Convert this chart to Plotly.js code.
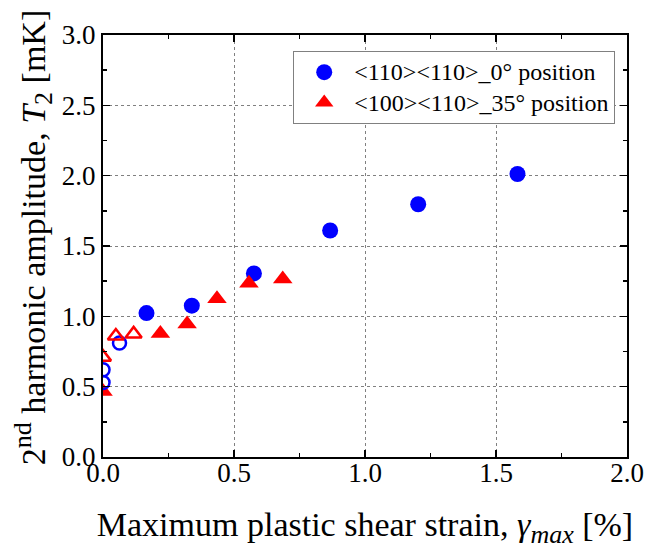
<!DOCTYPE html>
<html>
<head>
<meta charset="utf-8">
<script src="https://cdn.plot.ly/plotly-3.0.1.min.js"></script>
<style>html,body{margin:0;padding:0;background:#fff;}#chart{width:646px;height:551px;}</style>
</head>
<body>
<div id="chart"></div>
<script>
// <110><110>_0° position — filled points
const blueX = [0.166, 0.339, 0.576, 0.867, 1.203, 1.582];
const blueY = [1.023, 1.076, 1.305, 1.61, 1.797, 2.012];
// <110><110>_0° position — open points
const blueOpenX = [0.0, 0.0, 0.063];
const blueOpenY = [0.53, 0.62, 0.81];
// <100><110>_35° position — filled points
const redX = [0.0, 0.219, 0.321, 0.435, 0.557, 0.686];
const redY = [0.465, 0.878, 0.945, 1.125, 1.235, 1.265];
// <100><110>_35° position — open points
const redOpenX = [0.0, 0.049, 0.117];
const redOpenY = [0.71, 0.86, 0.875];

const names = ['&lt;110&gt;&lt;110&gt;_0° position', '&lt;100&gt;&lt;110&gt;_35° position'];
const xTicks = [0, 0.5, 1.0, 1.5, 2.0];
const yTicks = [0, 0.5, 1.0, 1.5, 2.0, 2.5, 3.0];

const font = 'Liberation Serif';
const big = s => '<span style="font-family:Liberation Serif;font-size:24px">' + s + '</span>';
const tk = v => '<span style="font-family:Liberation Serif;font-size:27px">' + v.toFixed(1) + '</span>';

const traces = [
  {x: blueX, y: blueY, type: 'scatter', mode: 'markers', name: big(names[0]),
   marker: {symbol: 'circle', size: 16, color: '#0000ff'}},
  {x: redX, y: redY, type: 'scatter', mode: 'markers', name: big(names[1]),
   marker: {symbol: 'triangle-up', size: 17, color: '#ff0000'}},
  {x: blueOpenX, y: blueOpenY, type: 'scatter', mode: 'markers', showlegend: false,
   marker: {symbol: 'circle-open', size: 13, color: '#0000ff', line: {width: 2.5, color: '#0000ff'}}},
  {x: redOpenX, y: redOpenY, type: 'scatter', mode: 'markers', showlegend: false,
   marker: {symbol: 'triangle-up-open', size: 14, color: '#ff0000', line: {width: 2.5, color: '#ff0000'}}}
];

function axisBase() {
  return {
    showline: true, linecolor: '#000', linewidth: 2, mirror: 'ticks',
    ticks: 'inside', ticklen: 7, tickwidth: 1.5, tickcolor: '#000',
    showgrid: true, gridcolor: '#808080', griddash: '3px,3px', gridwidth: 1,
    zeroline: false,
    tickfont: {family: font, size: 27, color: '#000000'},
    minor: {ticks: 'inside', ticklen: 4, tickwidth: 1.5, tickcolor: '#000', dtick: 0.25, showgrid: false}
  };
}

const xaxis = axisBase();
xaxis.range = [0, 2.0];
xaxis.tickmode = 'array';
xaxis.tickvals = xTicks;
xaxis.ticktext = xTicks.map(tk);
xaxis.ticklabelstandoff = -9;
xaxis.title = {text: 'Maximum plastic shear strain, <i>γ</i><sub><span style="font-size:26px"><i>max</i></span></sub> [%]',
               font: {family: font, size: 34, color: '#000'}, standoff: 25};

const yaxis = axisBase();
yaxis.range = [0, 3.0];
yaxis.tickmode = 'array';
yaxis.tickvals = yTicks;
yaxis.ticktext = yTicks.map(tk);
yaxis.ticklabelstandoff = 0;
yaxis.title = {text: '&nbsp;&nbsp;2<sup><span style="font-size:26px">nd</span></sup> harmonic amplitude, <i>T</i><sub><span style="font-size:26px">2</span></sub> [mK]',
               font: {family: font, size: 34, color: '#000'}, standoff: 6};

const layout = {
  width: 646, height: 551,
  margin: {l: 103, r: 19, t: 35, b: 94},
  paper_bgcolor: '#fff', plot_bgcolor: '#fff',
  font: {family: font, size: 24, color: '#000'},
  showlegend: true,
  legend: {x: 0.363, y: 0.962, xanchor: 'left', yanchor: 'top',
           bordercolor: '#808080', borderwidth: 1, bgcolor: '#fff',
           font: {family: font, size: 21, color: '#000'}, itemwidth: 50, tracegroupgap: 0},
  xaxis: xaxis,
  yaxis: yaxis
};

Plotly.newPlot('chart', traces, layout, {displayModeBar: false, staticPlot: true});
</script>
</body>
</html>
